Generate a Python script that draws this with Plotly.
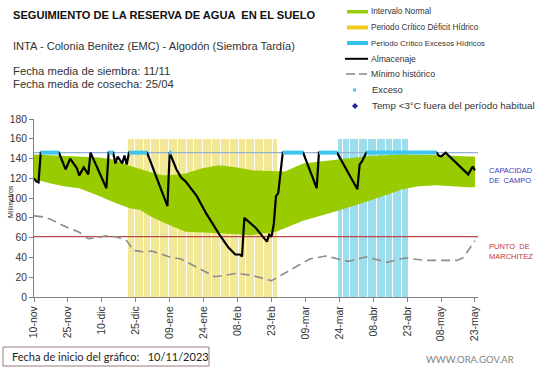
import plotly.graph_objects as go
import pandas as pd

# ---------------- data ----------------
TICK_DATES = ["2023-11-10", "2023-11-25", "2023-12-10", "2023-12-25", "2024-01-09", "2024-01-24",
              "2024-02-08", "2024-02-23", "2024-03-09", "2024-03-24", "2024-04-08", "2024-04-23",
              "2024-05-08", "2024-05-23"]
TICK_LABELS = ["10-nov", "25-nov", "10-dic", "25-dic", "09-ene", "24-ene", "08-feb", "23-feb",
               "09-mar", "24-mar", "08-abr", "23-abr", "08-may", "23-may"]

CAPACIDAD_CAMPO = 146
PUNTO_MARCHITEZ = 61
PERIOD_TOP = 160

DEFICIT_PERIOD = ("2023-12-22", "2024-02-25")
EXCESS_PERIOD = ("2024-03-24", "2024-04-23")

ALMACENAJE = [
    ("2023-11-10", 120), ("2023-11-11", 117), ("2023-11-12", 116), ("2023-11-13", 146),
    ("2023-11-21", 146), ("2023-11-24", 129), ("2023-11-26", 140), ("2023-11-28", 134),
    ("2023-11-29", 130), ("2023-11-30", 123), ("2023-12-02", 131), ("2023-12-04", 124),
    ("2023-12-05", 146), ("2023-12-12", 110), ("2023-12-13", 146), ("2023-12-15", 146),
    ("2023-12-16", 135), ("2023-12-17", 142), ("2023-12-19", 135), ("2023-12-20", 143),
    ("2023-12-21", 134), ("2023-12-22", 146), ("2023-12-30", 146), ("2024-01-08", 92),
    ("2024-01-09", 146), ("2024-01-12", 129), ("2024-01-14", 121), ("2024-01-16", 117),
    ("2024-01-21", 102), ("2024-01-25", 85), ("2024-01-31", 63), ("2024-02-04", 50),
    ("2024-02-07", 43), ("2024-02-09", 43), ("2024-02-10", 41), ("2024-02-11", 80),
    ("2024-02-12", 78), ("2024-02-16", 70), ("2024-02-21", 56), ("2024-02-22", 63),
    ("2024-02-23", 61), ("2024-02-24", 73), ("2024-02-25", 102), ("2024-02-26", 105),
    ("2024-02-28", 146), ("2024-03-08", 146), ("2024-03-14", 110), ("2024-03-15", 146),
    ("2024-03-23", 146), ("2024-04-01", 109), ("2024-04-02", 134), ("2024-04-03", 137),
    ("2024-04-05", 146), ("2024-05-06", 146), ("2024-05-07", 143), ("2024-05-08", 142),
    ("2024-05-10", 146), ("2024-05-20", 124), ("2024-05-22", 132), ("2024-05-23", 128),
]

MINIMO_HISTORICO = [
    ("2023-11-10", 82), ("2023-11-14", 81), ("2023-11-17", 79), ("2023-11-24", 71),
    ("2023-11-30", 65.5), ("2023-12-04", 59), ("2023-12-08", 60), ("2023-12-12", 62),
    ("2023-12-17", 60.5), ("2023-12-21", 57), ("2023-12-24", 47), ("2023-12-29", 45.5),
    ("2024-01-01", 46.5), ("2024-01-09", 40.5), ("2024-01-14", 38.5), ("2024-01-21", 30),
    ("2024-01-29", 20.5), ("2024-02-08", 24), ("2024-02-15", 21.5), ("2024-02-23", 16.5),
    ("2024-03-02", 27), ("2024-03-11", 38.5), ("2024-03-18", 41.5), ("2024-03-28", 36),
    ("2024-04-05", 40.5), ("2024-04-14", 35), ("2024-04-22", 39.5), ("2024-05-01", 37),
    ("2024-05-15", 37), ("2024-05-18", 40), ("2024-05-20", 47), ("2024-05-23", 57),
]

NORMAL_UPPER = [
    ("2023-11-10", 144), ("2023-12-05", 142), ("2023-12-09", 141), ("2023-12-15", 139),
    ("2023-12-22", 133), ("2024-01-01", 126), ("2024-01-06", 123), ("2024-01-09", 123),
    ("2024-01-16", 125), ("2024-01-23", 130), ("2024-01-30", 133), ("2024-02-01", 133),
    ("2024-02-08", 131), ("2024-02-15", 128), ("2024-02-25", 127), ("2024-02-29", 127),
    ("2024-03-08", 135), ("2024-03-23", 138.5), ("2024-04-06", 142.5), ("2024-04-21", 144),
    ("2024-05-06", 143.5), ("2024-05-20", 142), ("2024-05-23", 142),
]
NORMAL_LOWER = [
    ("2023-11-10", 119), ("2023-11-17", 115), ("2023-11-23", 112), ("2023-11-30", 110),
    ("2023-12-08", 103), ("2023-12-15", 96), ("2023-12-22", 90), ("2023-12-27", 88),
    ("2024-01-01", 81), ("2024-01-09", 72.5), ("2024-01-16", 66), ("2024-01-31", 64.5),
    ("2024-02-14", 62.5), ("2024-02-23", 65.5), ("2024-02-25", 66), ("2024-03-08", 77),
    ("2024-03-23", 87), ("2024-04-06", 97), ("2024-04-21", 109), ("2024-04-28", 112),
    ("2024-05-06", 113), ("2024-05-20", 111), ("2024-05-23", 111),
]

EXCESO_RUNS = [
    ("2023-11-13", "2023-11-21"), ("2023-12-13", "2023-12-15"), ("2023-12-22", "2023-12-30"),
    ("2024-01-08 18:00", "2024-01-09 18:00"), ("2024-02-28", "2024-03-08"),
    ("2024-03-15", "2024-03-23"), ("2024-04-05", "2024-05-06"),
]

X_RANGE = ["2023-11-10", "2024-05-24 08:00"]

# ---------------- geometry helpers ----------------
W, H = 541, 368
ML, MR, MT, MB = 34, 63, 119, 71
PW, PH = W - ML - MR, H - MT - MB
FONT = "Liberation Sans"


def px(x):
    return (x - ML) / PW


def py(y):
    return (H - MB - y) / PH


def unzip(pairs):
    return [p[0] for p in pairs], [p[1] for p in pairs]


fig = go.Figure()

# Intervalo normal (band)
ux, uy = unzip(NORMAL_UPPER)
lx, ly = unzip(NORMAL_LOWER)
fig.add_trace(go.Scatter(x=ux + lx[::-1], y=uy + ly[::-1], fill="toself",
                         fillcolor="#99CC00", line=dict(width=0), mode="lines",
                         hoverinfo="skip", showlegend=False))

# Critical periods as daily striped columns
DAY_MS = 86400000
for (s, e), col, op in [(DEFICIT_PERIOD, "#E8D232", 0.5), (EXCESS_PERIOD, "#3CBEDC", 0.5)]:
    days = pd.date_range(s, e, freq="D")
    fig.add_trace(go.Bar(x=days, y=[PERIOD_TOP] * len(days), width=DAY_MS * 0.5,
                         marker=dict(color=col, line=dict(width=0)), opacity=op,
                         hoverinfo="skip", showlegend=False))

# reference lines
fig.add_trace(go.Scatter(x=X_RANGE, y=[CAPACIDAD_CAMPO] * 2, mode="lines",
                         line=dict(color="#95B3D7", width=1.3), showlegend=False, hoverinfo="skip"))
fig.add_trace(go.Scatter(x=X_RANGE, y=[PUNTO_MARCHITEZ] * 2, mode="lines",
                         line=dict(color="#B94A48", width=1.2), showlegend=False, hoverinfo="skip"))

# Minimo historico
mx, my = unzip(MINIMO_HISTORICO)
fig.add_trace(go.Scatter(x=mx, y=my, mode="lines",
                         line=dict(color="#8C8C8C", width=1.6, dash="9px,5px"),
                         showlegend=False))

# Almacenaje
ax_, ay_ = unzip(ALMACENAJE)
fig.add_trace(go.Scatter(x=ax_, y=ay_, mode="lines", line=dict(color="black", width=2.2),
                         showlegend=False))

# Exceso
ex, ey = [], []
for s, e in EXCESO_RUNS:
    ex += [s, e, None]
    ey += [CAPACIDAD_CAMPO, CAPACIDAD_CAMPO, None]
fig.add_trace(go.Scatter(x=ex, y=ey, mode="lines", line=dict(color="#3FC6EE", width=4),
                         showlegend=False))

# ---------------- annotations ----------------
ann = []


def text(x, y, t, size, color="#222222", bold=False, family=FONT, anchor="left", angle=0):
    ann.append(dict(x=px(x), y=py(y), xref="paper", yref="paper", text=("<b>%s</b>" % t) if bold else t,
                    showarrow=False, xanchor=anchor, yanchor="middle", textangle=angle,
                    font=dict(family=family, size=size, color=color)))


text(11, 15, "SEGUIMIENTO DE LA RESERVA DE AGUA  EN EL SUELO", 11.1, "#111111", bold=True)
text(11, 46, "INTA - Colonia Benitez (EMC) - Algodón (Siembra Tardía)", 11.1, "#333333")
text(11, 71, "Fecha media de siembra: 11/11", 11.3, "#333333")
text(11, 84, "Fecha media de cosecha: 25/04", 11.3, "#333333")

# legend
shapes = []
LEG_Y = [11.7, 27.5, 43, 58.8, 74, 90, 106]
LEG_TXT = ["Intervalo Normal", "Periodo Crítico Déficit Hídrico", "Periodo Crítico Excesos Hídricos",
           "Almacenaje", "Mínimo histórico", "Exceso", "Temp <3°C fuera del período habitual"]
LEG_SIZE = [8.2, 8.2, 7.8, 8.6, 8.8, 9.4, 9.8]
for i, t in enumerate(LEG_TXT):
    text(369 if i < 5 else 370, LEG_Y[i], t, LEG_SIZE[i], "#333333")


def hline(x0, x1, y, col, w, dash=None):
    d = dict(type="line", xref="paper", yref="paper", x0=px(x0), x1=px(x1), y0=py(y), y1=py(y),
             line=dict(color=col, width=w))
    if dash:
        d["line"]["dash"] = dash
    shapes.append(d)


hline(347, 368, LEG_Y[0], "#99CC00", 3.5)
hline(347, 368, LEG_Y[1], "#F2CC1A", 4)
hline(347, 368, LEG_Y[2], "#2EC2EC", 4)
hline(345, 368, LEG_Y[3], "black", 2)
hline(346, 355, LEG_Y[4], "#8C8C8C", 1.6)
hline(359, 367, LEG_Y[4], "#8C8C8C", 1.6)
shapes.append(dict(type="rect", xref="paper", yref="paper", x0=px(353), x1=px(356),
                   y0=py(91.5), y1=py(88.5), fillcolor="#3FC6EE", line=dict(width=0)))
cx, cy = 355, 106
shapes.append(dict(type="path", xref="paper", yref="paper",
                   path="M %f %f L %f %f L %f %f L %f %f Z" % (
                       px(cx), py(cy - 3), px(cx + 3), py(cy), px(cx), py(cy + 3), px(cx - 3), py(cy)),
                   fillcolor="#1F1FA0", line=dict(width=0)))

# side labels
text(487, 170, "CAPACIDAD", 7.5, "#3A3AC0")
text(487, 180, "DE  CAMPO", 7.5, "#3A3AC0")
text(487, 246, "PUNTO  DE", 7.5, "#C83232")
text(487, 256, "MARCHITEZ", 7.5, "#C83232")

# y-axis title
text(10, 202, "Milímetros", 7, "#222222", anchor="center", angle=-90)

# bottom box
shapes.append(dict(type="rect", xref="paper", yref="paper", x0=px(3), x1=px(209), y0=py(366), y1=py(347),
                   line=dict(color="#9A7B7B", width=1), fillcolor="rgba(0,0,0,0)"))
text(10, 356.5, "Fecha de inicio del gráfico:   10/11/2023", 11, "#222222", family="Lato")
text(424, 359, "WWW.ORA.GOV.AR", 9.5, "#7F7F7F", family="Lato")

fig.update_layout(
    width=W, height=H, margin=dict(l=ML, r=MR, t=MT, b=MB, pad=0),
    paper_bgcolor="white", plot_bgcolor="white", barmode="overlay", bargap=0,
    showlegend=False, annotations=ann, shapes=shapes,
    font=dict(family=FONT, color="#333333"),
    xaxis=dict(type="date", range=X_RANGE, tickmode="array", tickvals=TICK_DATES, ticktext=TICK_LABELS,
               tickangle=-90, ticks="outside", ticklen=4, tickcolor="#808080", showline=True,
               linecolor="#808080", linewidth=1, showgrid=False, zeroline=False, automargin=False,
               tickfont=dict(size=10.5, color="#333333", family=FONT)),
    yaxis=dict(range=[0, 180], dtick=20, tick0=0, ticks="outside", ticklen=4, tickcolor="#808080",
               showline=True, linecolor="#808080", linewidth=1, showgrid=False, zeroline=False,
               automargin=False, tickfont=dict(size=10.3, color="#333333", family=FONT)),
)

fig.write_html("out.html", config={"displayModeBar": False},
               post_script="document.body.style.margin='0';document.body.style.padding='0';"
                           "document.documentElement.style.overflow='hidden';")
